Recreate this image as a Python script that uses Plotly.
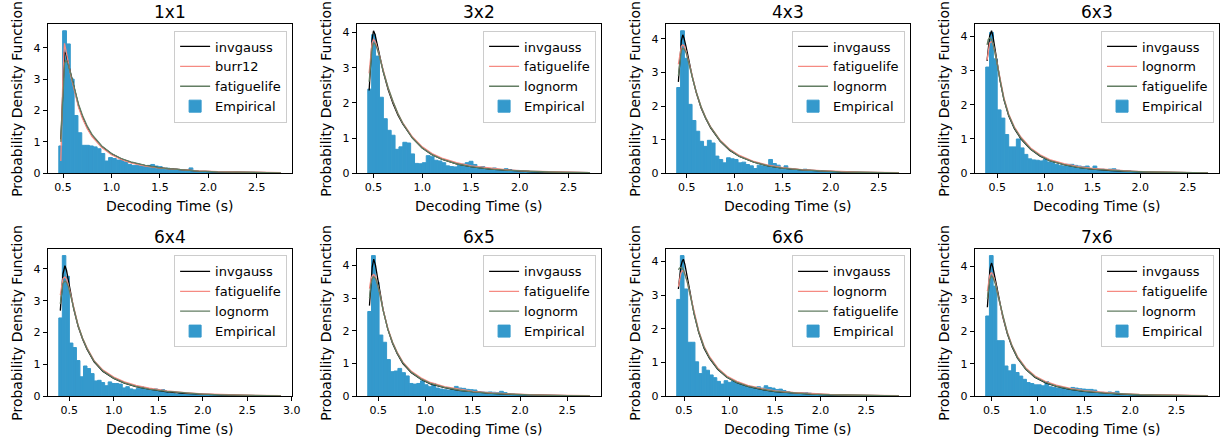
import plotly.graph_objects as go
from plotly.subplots import make_subplots

# ---------------- data ----------------
panel_titles = ["1x1", "3x2", "4x3", "6x3", "6x4", "6x5", "6x6", "7x6"]
fit_names = [
    ["invgauss", "burr12", "fatiguelife"],
    ["invgauss", "fatiguelife", "lognorm"],
    ["invgauss", "fatiguelife", "lognorm"],
    ["invgauss", "lognorm", "fatiguelife"],
    ["invgauss", "fatiguelife", "lognorm"],
    ["invgauss", "fatiguelife", "lognorm"],
    ["invgauss", "lognorm", "fatiguelife"],
    ["invgauss", "fatiguelife", "lognorm"],
]
# first/last decoding time (histogram range) per panel
hist_start = [0.456, 0.441, 0.397, 0.379, 0.383, 0.388, 0.420, 0.436]
data_max = [2.75, 2.72, 2.71, 2.71, 2.88, 2.74, 2.86, 2.84]

# empirical densities (histogram bars)
dens_1x1 = [0.87, 4.54, 4.12, 3.0, 1.84, 1.29, 0.89, 0.89, 0.87, 0.84, 0.78, 0.63, 0.39, 0.5, 0.47, 0.42,
            0.44, 0.36, 0.28, 0.25, 0.25, 0.23, 0.23, 0.25, 0.28, 0.23, 0.21, 0.15, 0.16, 0.15, 0.13, 0.11,
            0.1, 0.09, 0.17, 0.06,
            0.05, 0.04, 0.04, 0.03, 0.03, 0.02, 0.03, 0.02, 0.02, 0.01, 0.02, 0.01, 0.01, 0.01, 0.0, 0.01,
            0.01, 0.0, 0.0, 0.01, 0.0, 0.01]
dens_3x2 = [2.39, 3.94, 3.33, 2.16, 1.55, 1.22, 1.08, 0.68, 0.75, 0.88, 0.86, 0.55, 0.28, 0.27, 0.3, 0.5,
            0.47, 0.37, 0.35, 0.3, 0.21, 0.19, 0.18, 0.22, 0.26, 0.3, 0.34, 0.25, 0.18, 0.19, 0.14, 0.13,
            0.15, 0.11, 0.1, 0.13, 0.1,
            0.07, 0.08, 0.04, 0.03, 0.03, 0.02, 0.02, 0.02, 0.01, 0.02, 0.01, 0.01, 0.01, 0.0, 0.01, 0.0,
            0.01, 0.0, 0.0, 0.01]
dens_4x3 = [2.55, 4.24, 3.42, 2.05, 1.57, 1.25, 0.95, 0.8, 0.98, 0.9, 0.51, 0.41, 0.31, 0.46, 0.43, 0.41,
            0.31, 0.33, 0.26, 0.22, 0.14, 0.24, 0.22, 0.2, 0.41, 0.29, 0.24, 0.12, 0.22, 0.14, 0.12, 0.1,
            0.08, 0.12, 0.09,
            0.08, 0.07, 0.06, 0.06, 0.05, 0.04, 0.03, 0.03, 0.02, 0.02, 0.02, 0.01, 0.02, 0.01, 0.01, 0.01,
            0.0, 0.01, 0.0, 0.01, 0.0, 0.0, 0.01]
dens_6x3 = [3.1, 4.11, 3.34, 1.85, 1.61, 1.13, 0.77, 0.77, 1.0, 0.74, 0.55, 0.42, 0.39, 0.38, 0.36, 0.4,
            0.33, 0.31, 0.26, 0.23, 0.21, 0.26, 0.26, 0.23, 0.21, 0.19, 0.21, 0.12, 0.21, 0.12, 0.12, 0.1,
            0.12, 0.13, 0.09,
            0.08, 0.07, 0.06, 0.05, 0.05, 0.04, 0.03, 0.03, 0.02, 0.02, 0.02, 0.01, 0.01, 0.02, 0.01, 0.01,
            0.0, 0.01, 0.0, 0.01, 0.0, 0.0, 0.01]
dens_6x4 = [2.46, 4.42, 3.77, 1.67, 1.53, 1.12, 0.61, 0.95, 0.87, 0.71, 0.48, 0.5, 0.43, 0.33, 0.45, 0.4,
            0.4, 0.38, 0.26, 0.3, 0.23, 0.2, 0.25, 0.3, 0.26, 0.22, 0.2, 0.23, 0.17, 0.21, 0.12, 0.09,
            0.09, 0.07, 0.09, 0.1, 0.07, 0.07,
            0.06, 0.05, 0.05, 0.04, 0.04, 0.03, 0.03, 0.02, 0.02, 0.02, 0.01, 0.02, 0.01, 0.01, 0.01, 0.0,
            0.01, 0.01, 0.0, 0.0, 0.01, 0.0, 0.01, 0.0, 0.01]
dens_6x5 = [2.59, 4.3, 3.49, 1.87, 1.65, 1.12, 0.75, 0.77, 0.85, 0.72, 0.62, 0.39, 0.37, 0.39, 0.47, 0.35,
            0.29, 0.39, 0.25, 0.22, 0.2, 0.19, 0.22, 0.3, 0.25, 0.24, 0.21, 0.2, 0.19, 0.14, 0.13, 0.12,
            0.13, 0.12, 0.11, 0.15, 0.11,
            0.08, 0.07, 0.05, 0.05, 0.04, 0.03, 0.03, 0.02, 0.02, 0.02, 0.01, 0.01, 0.02, 0.01, 0.01, 0.0,
            0.01, 0.0, 0.01, 0.0, 0.0, 0.01]
dens_6x6 = [2.87, 4.17, 3.18, 1.6, 1.6, 1.02, 0.67, 0.87, 0.77, 0.63, 0.55, 0.44, 0.36, 0.46, 0.41, 0.44,
            0.38, 0.36, 0.31, 0.26, 0.24, 0.26, 0.28, 0.24, 0.31, 0.26, 0.24, 0.2, 0.21, 0.17, 0.13, 0.11,
            0.09, 0.09, 0.1, 0.11, 0.09,
            0.07, 0.06, 0.05, 0.05, 0.04, 0.04, 0.03, 0.03, 0.02, 0.02, 0.02, 0.01, 0.02, 0.01, 0.01, 0.01,
            0.0, 0.01, 0.0, 0.01, 0.0, 0.0, 0.01, 0.01]
dens_7x6 = [2.47, 4.33, 3.39, 1.71, 1.71, 0.93, 0.78, 0.98, 0.73, 0.62, 0.52, 0.42, 0.39, 0.35, 0.35, 0.32,
            0.45, 0.29, 0.27, 0.25, 0.24, 0.25, 0.22, 0.27, 0.25, 0.23, 0.22, 0.21, 0.21, 0.19, 0.12, 0.12,
            0.11, 0.13, 0.11,
            0.15, 0.08, 0.06, 0.05, 0.04, 0.04, 0.03, 0.03, 0.02, 0.02, 0.02, 0.01, 0.02, 0.01, 0.01, 0.01,
            0.0, 0.01, 0.0, 0.01, 0.0, 0.0, 0.01, 0.0, 0.01]

# fitted PDF curves: sample points (x) and the three fits' values
cx_1x1 = [0.477, 0.49, 0.50, 0.515, 0.53, 0.55, 0.58, 0.62, 0.66, 0.70, 0.75, 0.80, 0.90, 1.0, 1.1, 1.2,
          1.35, 1.5, 1.7, 1.9, 2.1, 2.3, 2.5, 2.75]
f1_1x1 = [1.08, 2.2, 3.1, 3.87, 3.8, 3.55, 3.15, 2.6, 2.15, 1.8, 1.45, 1.2, 0.85, 0.62, 0.46, 0.35, 0.24,
          0.17, 0.11, 0.07, 0.045, 0.03, 0.02, 0.012]
f2_1x1 = [0.39, 2.0, 3.3, 4.14, 3.95, 3.6, 3.1, 2.55, 2.1, 1.75, 1.42, 1.17, 0.82, 0.59, 0.44, 0.33, 0.23,
          0.16, 0.11, 0.075, 0.05, 0.035, 0.025, 0.018]
f3_1x1 = [1.0, 2.0, 2.8, 3.5, 3.6, 3.5, 3.15, 2.65, 2.2, 1.85, 1.5, 1.23, 0.87, 0.63, 0.47, 0.36, 0.25,
          0.17, 0.11, 0.07, 0.045, 0.03, 0.02, 0.012]

cx_3x2 = [0.455, 0.47, 0.485, 0.50, 0.515, 0.535, 0.56, 0.60, 0.65, 0.70, 0.75, 0.80, 0.90, 1.0, 1.1, 1.2,
          1.35, 1.5, 1.7, 1.9, 2.1, 2.3, 2.5, 2.72]
f1_3x2 = [2.35, 3.2, 3.8, 4.05, 3.95, 3.7, 3.4, 2.88, 2.38, 1.98, 1.66, 1.4, 1.0, 0.72, 0.53, 0.4, 0.27,
          0.19, 0.12, 0.078, 0.05, 0.033, 0.022, 0.014]
f2_3x2 = [2.84, 3.35, 3.7, 3.8, 3.75, 3.6, 3.35, 2.9, 2.42, 2.03, 1.7, 1.43, 1.03, 0.75, 0.56, 0.43, 0.3,
          0.21, 0.14, 0.09, 0.06, 0.04, 0.028, 0.019]
f3_3x2 = [2.6, 3.2, 3.55, 3.7, 3.68, 3.55, 3.33, 2.9, 2.43, 2.04, 1.7, 1.42, 1.0, 0.72, 0.53, 0.4, 0.27,
          0.19, 0.12, 0.08, 0.052, 0.035, 0.024, 0.016]

cx_4x3 = [0.414, 0.43, 0.445, 0.46, 0.475, 0.495, 0.52, 0.56, 0.60, 0.65, 0.70, 0.75, 0.85, 0.95, 1.05, 1.2,
          1.35, 1.5, 1.7, 1.9, 2.1, 2.3, 2.5, 2.71]
f1_4x3 = [2.72, 3.5, 3.95, 4.12, 4.0, 3.75, 3.4, 2.85, 2.4, 1.95, 1.62, 1.35, 0.95, 0.68, 0.5, 0.33, 0.22,
          0.15, 0.1, 0.065, 0.043, 0.029, 0.02, 0.013]
f2_4x3 = [3.24, 3.6, 3.78, 3.82, 3.78, 3.62, 3.35, 2.85, 2.42, 1.98, 1.65, 1.38, 0.98, 0.71, 0.53, 0.35,
          0.24, 0.17, 0.11, 0.075, 0.05, 0.035, 0.025, 0.017]
f3_4x3 = [2.9, 3.4, 3.65, 3.72, 3.7, 3.58, 3.33, 2.85, 2.42, 1.98, 1.64, 1.37, 0.96, 0.69, 0.5, 0.33, 0.22,
          0.15, 0.1, 0.066, 0.044, 0.03, 0.02, 0.013]

cx_6x3 = [0.393, 0.405, 0.42, 0.44, 0.455, 0.475, 0.50, 0.53, 0.57, 0.62, 0.68, 0.75, 0.85, 0.95, 1.05, 1.2,
          1.35, 1.5, 1.7, 1.9, 2.1, 2.3, 2.5, 2.71]
f1_6x3 = [3.28, 3.7, 4.0, 4.16, 4.0, 3.65, 3.2, 2.7, 2.15, 1.68, 1.3, 1.0, 0.7, 0.5, 0.37, 0.25, 0.17,
          0.12, 0.08, 0.052, 0.035, 0.024, 0.016, 0.01]
f2_6x3 = [3.3, 3.6, 3.8, 3.85, 3.78, 3.55, 3.2, 2.75, 2.2, 1.73, 1.35, 1.05, 0.74, 0.54, 0.4, 0.28, 0.19,
          0.14, 0.09, 0.06, 0.04, 0.028, 0.02, 0.013]
f3_6x3 = [3.75, 3.9, 3.95, 3.9, 3.8, 3.55, 3.18, 2.72, 2.17, 1.7, 1.32, 1.02, 0.71, 0.51, 0.37, 0.25, 0.17,
          0.12, 0.08, 0.053, 0.036, 0.025, 0.017, 0.011]

cx_6x4 = [0.40, 0.415, 0.43, 0.452, 0.47, 0.49, 0.515, 0.55, 0.60, 0.65, 0.70, 0.78, 0.88, 1.0, 1.12, 1.25,
          1.4, 1.6, 1.8, 2.0, 2.2, 2.4, 2.6, 2.88]
f1_6x4 = [2.69, 3.4, 3.85, 4.1, 3.95, 3.65, 3.25, 2.75, 2.2, 1.8, 1.48, 1.08, 0.78, 0.56, 0.41, 0.3, 0.22,
          0.14, 0.09, 0.06, 0.04, 0.027, 0.018, 0.01]
f2_6x4 = [3.18, 3.5, 3.7, 3.75, 3.68, 3.5, 3.2, 2.75, 2.23, 1.83, 1.52, 1.12, 0.82, 0.6, 0.45, 0.34, 0.25,
          0.17, 0.11, 0.075, 0.052, 0.036, 0.025, 0.016]
f3_6x4 = [2.9, 3.3, 3.55, 3.62, 3.58, 3.45, 3.18, 2.74, 2.22, 1.82, 1.5, 1.1, 0.79, 0.57, 0.42, 0.31, 0.22,
          0.15, 0.1, 0.065, 0.044, 0.03, 0.02, 0.012]

cx_6x5 = [0.406, 0.42, 0.435, 0.451, 0.47, 0.49, 0.515, 0.55, 0.60, 0.65, 0.70, 0.76, 0.85, 0.95, 1.05, 1.2,
          1.35, 1.5, 1.7, 1.9, 2.1, 2.3, 2.5, 2.74]
f1_6x5 = [2.77, 3.5, 3.95, 4.19, 4.0, 3.65, 3.2, 2.65, 2.05, 1.62, 1.3, 1.0, 0.72, 0.52, 0.38, 0.26, 0.18,
          0.13, 0.085, 0.055, 0.037, 0.025, 0.017, 0.011]
f2_6x5 = [3.29, 3.55, 3.68, 3.72, 3.65, 3.45, 3.15, 2.65, 2.08, 1.66, 1.34, 1.04, 0.76, 0.56, 0.42, 0.29,
          0.21, 0.15, 0.1, 0.068, 0.047, 0.033, 0.023, 0.016]
f3_6x5 = [3.0, 3.4, 3.6, 3.65, 3.6, 3.43, 3.13, 2.63, 2.06, 1.64, 1.32, 1.02, 0.73, 0.53, 0.39, 0.27, 0.19,
          0.13, 0.088, 0.058, 0.039, 0.027, 0.018, 0.012]

cx_6x6 = [0.438, 0.45, 0.465, 0.48, 0.493, 0.51, 0.535, 0.57, 0.61, 0.66, 0.72, 0.78, 0.87, 0.97, 1.08, 1.2,
          1.35, 1.5, 1.7, 1.9, 2.1, 2.35, 2.6, 2.86]
f1_6x6 = [3.18, 3.55, 3.85, 4.0, 4.06, 3.9, 3.55, 3.0, 2.45, 1.9, 1.42, 1.12, 0.8, 0.56, 0.4, 0.29, 0.2,
          0.14, 0.09, 0.06, 0.04, 0.025, 0.016, 0.01]
f2_6x6 = [3.25, 3.5, 3.65, 3.72, 3.72, 3.62, 3.4, 2.98, 2.48, 1.95, 1.48, 1.17, 0.84, 0.6, 0.44, 0.32, 0.23,
          0.16, 0.11, 0.075, 0.052, 0.034, 0.023, 0.015]
f3_6x6 = [3.75, 3.8, 3.82, 3.8, 3.75, 3.63, 3.4, 2.97, 2.46, 1.93, 1.45, 1.14, 0.81, 0.57, 0.41, 0.3, 0.21,
          0.145, 0.095, 0.063, 0.043, 0.027, 0.018, 0.012]

cx_7x6 = [0.454, 0.465, 0.48, 0.49, 0.50, 0.515, 0.54, 0.575, 0.62, 0.67, 0.72, 0.78, 0.87, 0.97, 1.08, 1.2,
          1.35, 1.5, 1.7, 1.9, 2.1, 2.35, 2.6, 2.84]
f1_7x6 = [2.74, 3.3, 3.85, 4.02, 4.1, 3.95, 3.6, 3.05, 2.45, 1.92, 1.52, 1.17, 0.83, 0.58, 0.42, 0.3, 0.21,
          0.15, 0.1, 0.065, 0.043, 0.027, 0.017, 0.011]
f2_7x6 = [3.24, 3.5, 3.72, 3.78, 3.8, 3.72, 3.5, 3.03, 2.48, 1.97, 1.57, 1.22, 0.87, 0.62, 0.46, 0.34, 0.24,
          0.17, 0.115, 0.078, 0.054, 0.035, 0.024, 0.016]
f3_7x6 = [3.0, 3.3, 3.58, 3.66, 3.7, 3.65, 3.46, 3.02, 2.47, 1.95, 1.55, 1.19, 0.84, 0.59, 0.43, 0.31, 0.22,
          0.155, 0.1, 0.068, 0.045, 0.029, 0.019, 0.012]

densities = [dens_1x1, dens_3x2, dens_4x3, dens_6x3, dens_6x4, dens_6x5, dens_6x6, dens_7x6]
curve_x = [cx_1x1, cx_3x2, cx_4x3, cx_6x3, cx_6x4, cx_6x5, cx_6x6, cx_7x6]
fit1 = [f1_1x1, f1_3x2, f1_4x3, f1_6x3, f1_6x4, f1_6x5, f1_6x6, f1_7x6]
fit2 = [f2_1x1, f2_3x2, f2_4x3, f2_6x3, f2_6x4, f2_6x5, f2_6x6, f2_7x6]
fit3 = [f3_1x1, f3_3x2, f3_4x3, f3_6x3, f3_6x4, f3_6x5, f3_6x6, f3_7x6]

# ---------------- styling / layout ----------------
W, H = 1228, 448
FONT = "DejaVu Sans"
BAR_COLOR = "#3499CC"
LINE_COLORS = ["#000000", "#F58A82", "#627D62"]

col_left_px = [48, 359, 670, 981]
col_w_px = 246
row_top_px = [24, 252.5]
row_bot_px = [176, 402.5]

fig = make_subplots(rows=2, cols=4)

annotations = []
for i in range(8):
    r, c = i // 4, i % 4
    row, col = r + 1, c + 1
    lg = "legend" if i == 0 else f"legend{i + 1}"
    n = len(densities[i])
    w = (data_max[i] - hist_start[i]) / n
    lefts = [hist_start[i] + k * w for k in range(n)]
    fits = [fit1[i], fit2[i], fit3[i]]
    for j in range(3):
        fig.add_trace(go.Scatter(x=curve_x[i], y=fits[j], mode="lines", name=fit_names[i][j],
                                 line=dict(color=LINE_COLORS[j], width=1.3), legend=lg,
                                 showlegend=True), row=row, col=col)
    fig.add_trace(go.Bar(x=lefts, y=densities[i], width=w, offset=0, name="Empirical",
                         marker=dict(color=BAR_COLOR, line=dict(color=BAR_COLOR, width=1)),
                         legend=lg, showlegend=True), row=row, col=col)

    span = data_max[i] - hist_start[i]
    xr = [hist_start[i] - 0.05 * span, data_max[i] + 0.05 * span]
    ymax = 1.05 * max(max(densities[i]), max(fits[0]), max(fits[1]), max(fits[2]))

    x0 = col_left_px[c] / W
    x1 = (col_left_px[c] + col_w_px) / W
    y0 = 1 - row_bot_px[r] / H
    y1 = 1 - row_top_px[r] / H
    ax = "" if i == 0 else str(i + 1)
    fig.layout[f"xaxis{ax}"].update(domain=[x0, x1], range=xr, dtick=0.5, tick0=0, tickformat=".1f",
                                    showgrid=False, zeroline=False, showline=True, mirror=True,
                                    linecolor="black", linewidth=1, ticks="outside", ticklen=4,
                                    tickcolor="black", tickfont=dict(family=FONT, size=11, color="black"))
    fig.layout[f"yaxis{ax}"].update(domain=[y0, y1], range=[0, ymax], dtick=1, tick0=0,
                                    showgrid=False, zeroline=False, showline=True, mirror=True,
                                    linecolor="black", linewidth=1, ticks="outside", ticklen=4,
                                    tickcolor="black", tickfont=dict(family=FONT, size=11, color="black"))
    fig.layout[lg] = dict(x=x1 - 5 / W, y=y1 - 7 / H, xanchor="right", yanchor="top",
                          bgcolor="rgba(255,255,255,0.85)", bordercolor="#CCCCCC", borderwidth=1,
                          font=dict(family=FONT, size=13, color="black"), tracegroupgap=0,
                          traceorder="normal")
    xc = (x0 + x1) / 2
    annotations.append(dict(text=panel_titles[i], x=xc, y=y1 + 12 / H, xref="paper", yref="paper",
                            xanchor="center", yanchor="middle", showarrow=False,
                            font=dict(family=FONT, size=17, color="black")))
    annotations.append(dict(text="Decoding Time (s)", x=xc, y=y0 - 33 / H, xref="paper", yref="paper",
                            xanchor="center", yanchor="middle", showarrow=False,
                            font=dict(family=FONT, size=14, color="black")))
    annotations.append(dict(text="Probability Density Function", x=x0 - 30.5 / W, y=(y0 + y1) / 2,
                            xref="paper", yref="paper", xanchor="center", yanchor="middle",
                            textangle=-90, showarrow=False,
                            font=dict(family=FONT, size=14, color="black")))

fig.update_layout(width=W, height=H, autosize=False, margin=dict(l=0, r=0, t=0, b=0),
                  paper_bgcolor="white", plot_bgcolor="white", bargap=0, barmode="overlay",
                  annotations=annotations, font=dict(family=FONT), hovermode=False)

fig.write_html(
    "out.html",
    config={"displayModeBar": False, "staticPlot": True},
    post_script=(
        "document.documentElement.style.overflow='hidden';"
        "document.body.style.overflow='hidden';"
        "document.body.style.margin='0px';document.body.style.padding='0px';"
    ),
)
